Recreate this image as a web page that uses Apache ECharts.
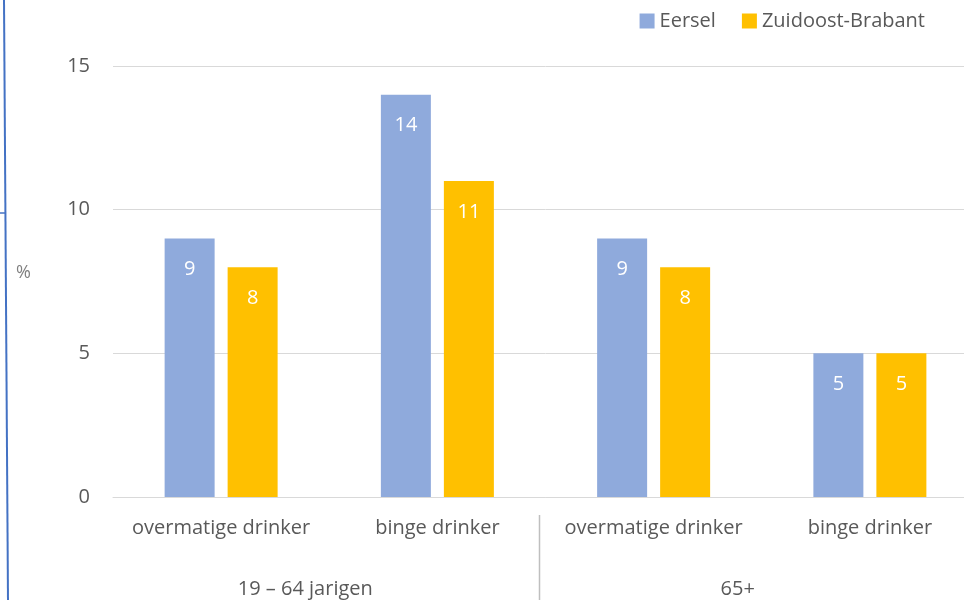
<!DOCTYPE html>
<html>
<head>
<meta charset="utf-8">
<script src="https://cdn.jsdelivr.net/npm/echarts@6/dist/echarts.min.js"></script>
<style>
  html, body { margin: 0; padding: 0; background: #fff; overflow: hidden; }
  /* a bit wider than the window: the plot area runs past the right edge */
  #main { width: 980px; height: 600px; }
</style>
</head>
<body>
<div id="main"></div>
<script>
// categories and values
var categories = ['overmatige drinker', 'binge drinker', 'overmatige drinker', 'binge drinker']
var groups = ['19 – 64 jarigen', '65+']
var eersel = [9, 14, 9, 5]
var zuidoost = [8, 11, 8, 5]

var font = 'Open Sans'
var grey = '#595959'

var chart = echarts.init(document.getElementById('main'))

var option = {
  animation: false,
  textStyle: { fontFamily: font },
  legend: {
    top: 6,
    right: 50,
    itemWidth: 15,
    itemHeight: 15,
    itemGap: 26,
    icon: 'rect',
    textStyle: { color: grey, fontSize: 20, fontFamily: font },
    data: ['Eersel', 'Zuidoost-Brabant']
  },
  grid: [
    { left: 113, top: 66, width: 865, height: 431 },
    { left: 89, top: 66, width: 865, height: 431 }
  ],
  xAxis: [
    {
      type: 'category',
      gridIndex: 0,
      data: categories,
      axisLine: { lineStyle: { color: '#D9D9D9' } },
      axisTick: { show: false },
      axisLabel: { color: grey, fontSize: 20, margin: 21, interval: 0, fontFamily: font }
    },
    {
      type: 'category',
      gridIndex: 1,
      data: groups,
      axisLine: { show: false },
      axisTick: { show: false },
      axisLabel: { color: grey, fontSize: 20, margin: 82, interval: 0, fontFamily: font }
    }
  ],
  yAxis: [
    {
      type: 'value',
      gridIndex: 0,
      min: 0,
      max: 15,
      interval: 5,
      axisLine: { show: false },
      axisTick: { show: false },
      splitLine: { lineStyle: { color: '#D9D9D9' } },
      axisLabel: { color: grey, fontSize: 20, margin: 23, fontFamily: font }
    },
    { type: 'value', gridIndex: 1, show: false }
  ],
  series: [
    {
      name: 'Eersel',
      type: 'bar',
      data: eersel,
      barWidth: 50,
      barGap: '26%',
      itemStyle: { color: '#8FAADC' },
      label: { show: true, position: 'insideTop', distance: 21, color: '#fff', fontSize: 20, fontFamily: font }
    },
    {
      name: 'Zuidoost-Brabant',
      type: 'bar',
      data: zuidoost,
      barWidth: 50,
      itemStyle: { color: '#FFC000' },
      label: { show: true, position: 'insideTop', distance: 21, color: '#fff', fontSize: 20, fontFamily: font }
    }
  ],
  graphic: [
    // blue frame edge on the left
    { type: 'line', shape: { x1: 4, y1: 0, x2: 8, y2: 600 }, style: { stroke: '#4472C4', lineWidth: 2 } },
    { type: 'line', shape: { x1: 0, y1: 213, x2: 5, y2: 213 }, style: { stroke: '#4472C4', lineWidth: 1.5 } },
    // axis title
    { type: 'text', left: 16, top: 264, style: { text: '%', fill: '#808080', fontSize: 18, fontFamily: font } },
    // separator between the two groups
    { type: 'line', shape: { x1: 539.5, y1: 515, x2: 539.5, y2: 600 }, style: { stroke: '#BFBFBF', lineWidth: 1.5 } }
  ]
}

chart.setOption(option)
</script>
</body>
</html>
